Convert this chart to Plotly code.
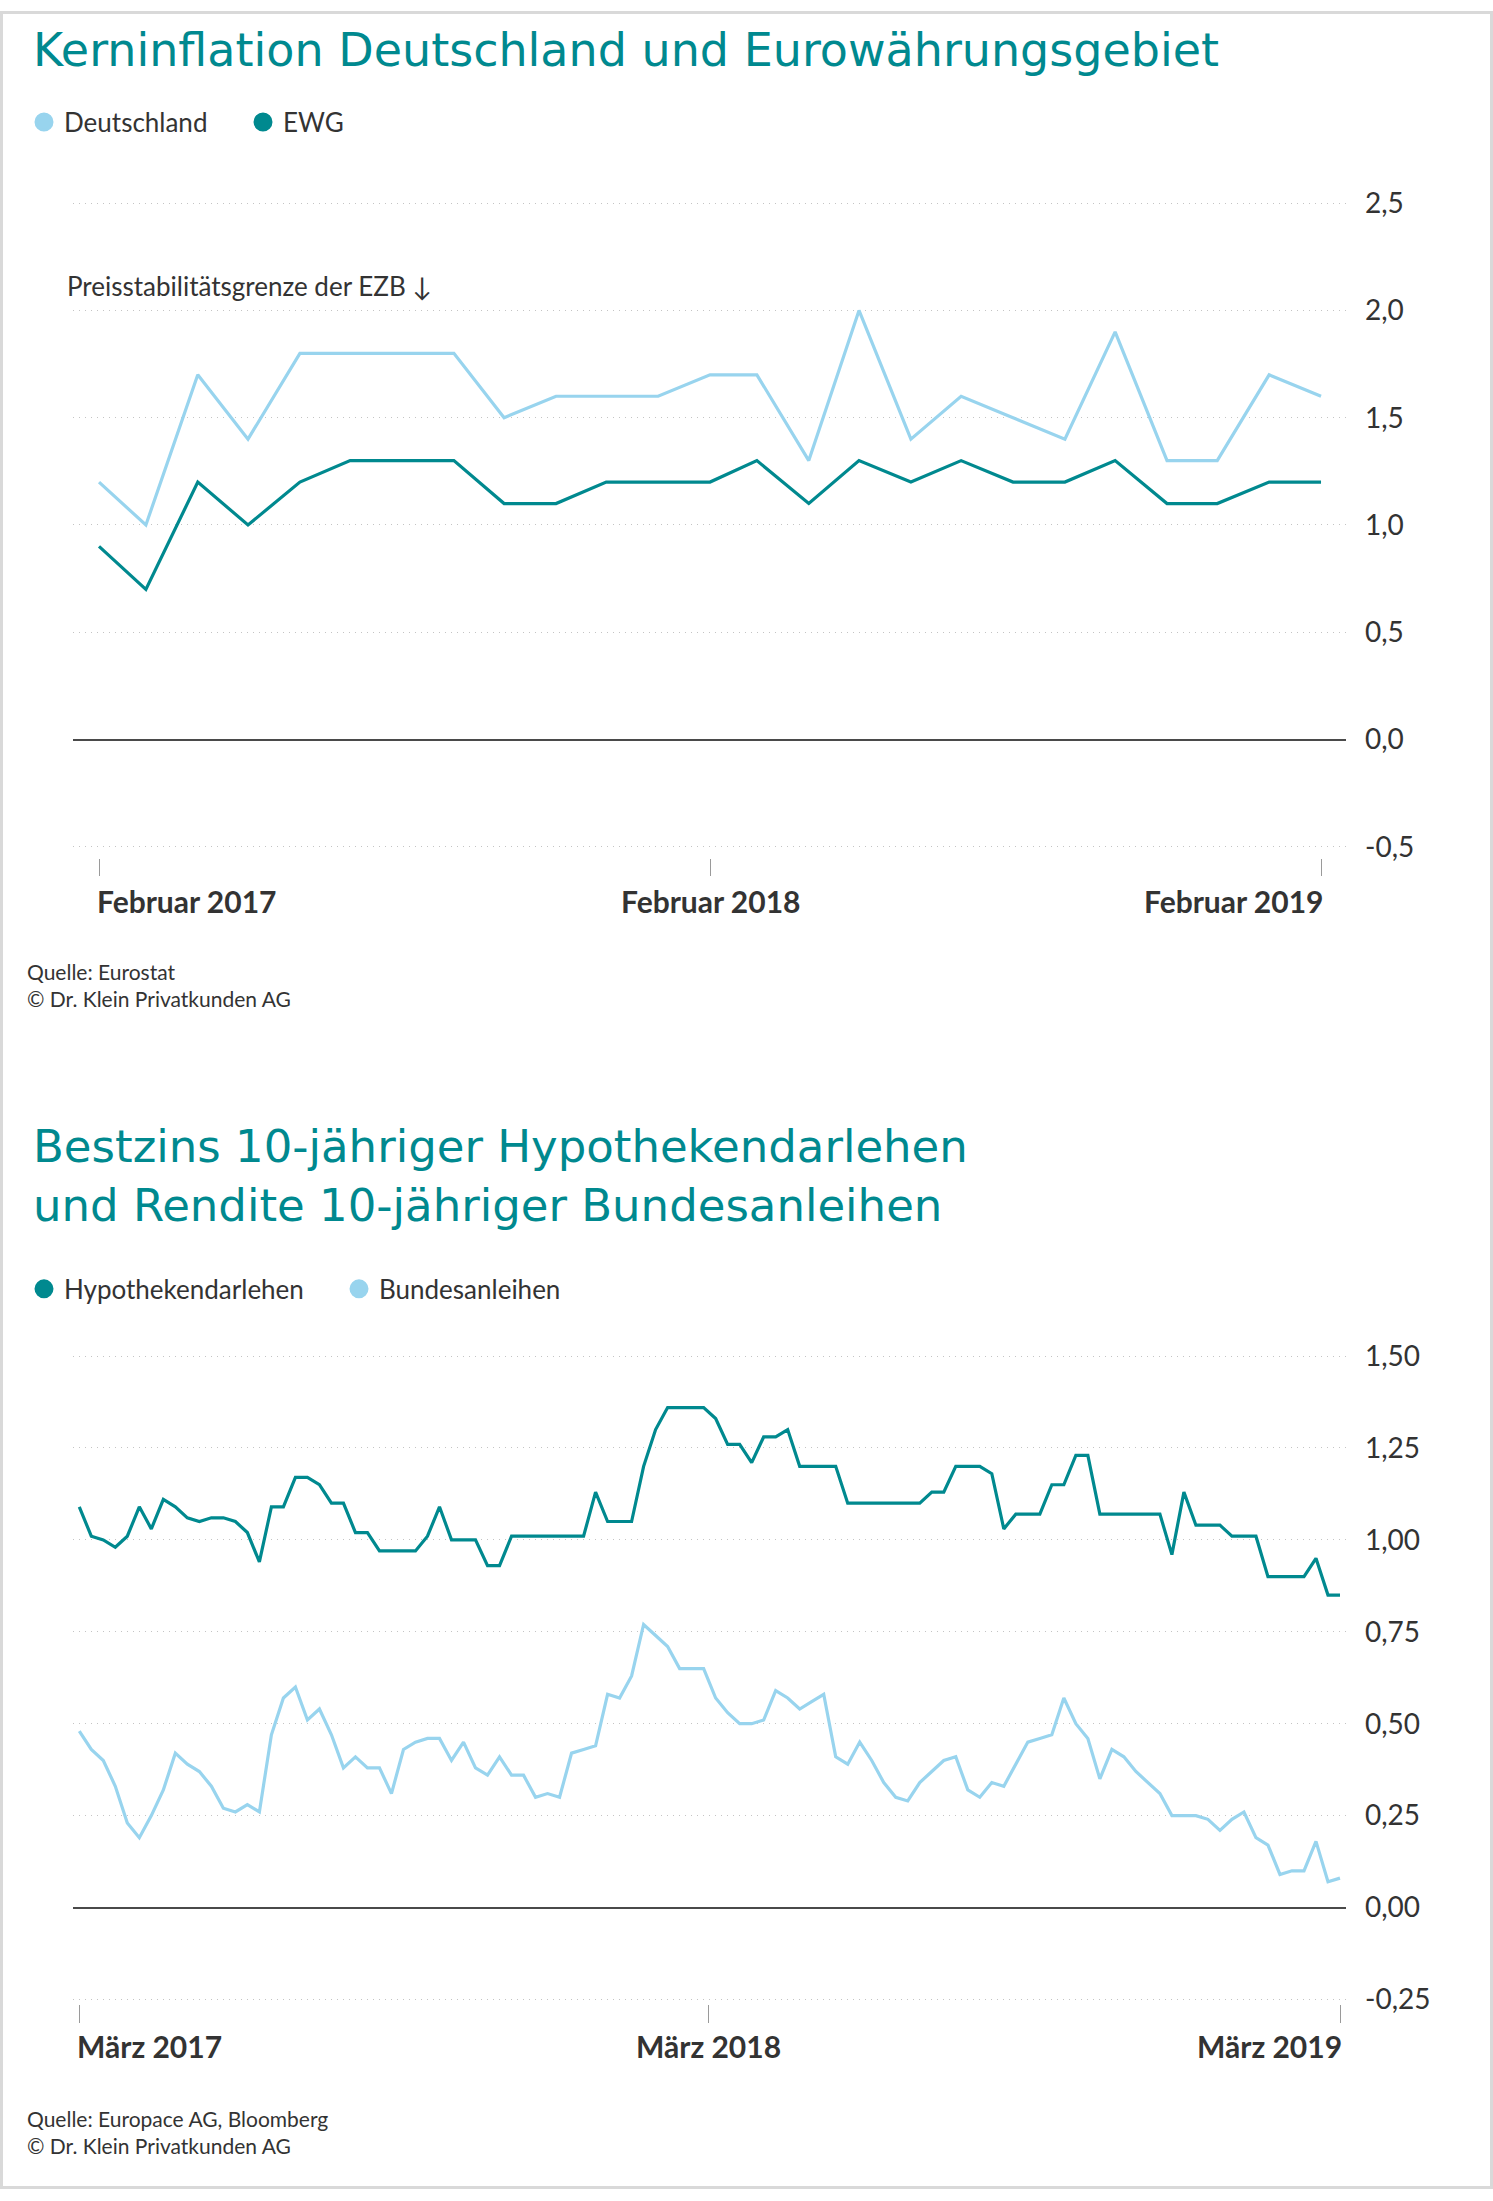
import plotly.graph_objects as go
import pandas as pd

W, H = 1493, 2201
# the photographed page shows the figure slightly offset/compressed vertically;
# positions below are given in reference-image pixels and mapped back here
V_OFF, V_SCALE = 8.0, 0.9888


def px(x):
    return x / W


def py(y):
    return 1 - ((y - V_OFF) / V_SCALE) / H


TEAL = "#00898F"
LIGHT = "#98D4EE"
TEXT = "#333333"
GRID = "#c4c4c4"
BODY_FONT = "Lato"
TITLE_FONT = "DejaVu Sans"

# ---------------- Chart 1: Kerninflation ----------------
months1 = pd.date_range("2017-02-01", "2019-02-01", freq="MS")
deutschland = [1.2, 1.0, 1.7, 1.4, 1.8, 1.8, 1.8, 1.8, 1.5, 1.6, 1.6, 1.6, 1.7,
               1.7, 1.3, 2.0, 1.4, 1.6, 1.5, 1.4, 1.9, 1.3, 1.3, 1.7, 1.6]
ewg = [0.9, 0.7, 1.2, 1.0, 1.2, 1.3, 1.3, 1.3, 1.1, 1.1, 1.2, 1.2, 1.2,
       1.3, 1.1, 1.3, 1.2, 1.3, 1.2, 1.2, 1.3, 1.1, 1.1, 1.2, 1.2]
x1_tick_dates = ["2017-02-01", "2018-02-01", "2019-02-01"]
x1_tick_labels = ["Februar 2017", "Februar 2018", "Februar 2019"]
y1_tick_vals = [-0.5, 0.0, 0.5, 1.0, 1.5, 2.0, 2.5]
y1_tick_text = ["-0,5", "0,0", "0,5", "1,0", "1,5", "2,0", "2,5"]
ezb_limit = 2.0

# ---------------- Chart 2: Bestzins / Rendite ----------------
weeks2 = pd.date_range("2017-03-01", periods=106, freq="7D")
hypothek = [1.09, 1.01, 1.00, 0.98, 1.01, 1.09, 1.03, 1.11, 1.09, 1.06,
            1.05, 1.06, 1.06, 1.05, 1.02, 0.94, 1.09, 1.09, 1.17, 1.17,
            1.15, 1.10, 1.10, 1.02, 1.02, 0.97, 0.97, 0.97, 0.97, 1.01,
            1.09, 1.00, 1.00, 1.00, 0.93, 0.93, 1.01, 1.01, 1.01, 1.01,
            1.01, 1.01, 1.01, 1.13, 1.05, 1.05, 1.05, 1.20, 1.30, 1.36,
            1.36, 1.36, 1.36, 1.33, 1.26, 1.26, 1.21, 1.28, 1.28, 1.30,
            1.20, 1.20, 1.20, 1.20, 1.10, 1.10, 1.10, 1.10, 1.10, 1.10,
            1.10, 1.13, 1.13, 1.20, 1.20, 1.20, 1.18, 1.03, 1.07, 1.07,
            1.07, 1.15, 1.15, 1.23, 1.23, 1.07, 1.07, 1.07, 1.07, 1.07,
            1.07, 0.96, 1.13, 1.04, 1.04, 1.04, 1.01, 1.01, 1.01, 0.90,
            0.90, 0.90, 0.90, 0.95, 0.85, 0.85]
bund = [0.48, 0.43, 0.40, 0.33, 0.23, 0.19, 0.25, 0.32, 0.42, 0.39,
        0.37, 0.33, 0.27, 0.26, 0.28, 0.26, 0.47, 0.57, 0.60, 0.51,
        0.54, 0.47, 0.38, 0.41, 0.38, 0.38, 0.31, 0.43, 0.45, 0.46,
        0.46, 0.40, 0.45, 0.38, 0.36, 0.41, 0.36, 0.36, 0.30, 0.31,
        0.30, 0.42, 0.43, 0.44, 0.58, 0.57, 0.63, 0.77, 0.74, 0.71,
        0.65, 0.65, 0.65, 0.57, 0.53, 0.50, 0.50, 0.51, 0.59, 0.57,
        0.54, 0.56, 0.58, 0.41, 0.39, 0.45, 0.40, 0.34, 0.30, 0.29,
        0.34, 0.37, 0.40, 0.41, 0.32, 0.30, 0.34, 0.33, 0.39, 0.45,
        0.46, 0.47, 0.57, 0.50, 0.46, 0.35, 0.43, 0.41, 0.37, 0.34,
        0.31, 0.25, 0.25, 0.25, 0.24, 0.21, 0.24, 0.26, 0.19, 0.17,
        0.09, 0.10, 0.10, 0.18, 0.07, 0.08]
x2_tick_dates = ["2017-03-01", "2018-03-03", "2019-03-06"]
x2_tick_labels = ["März 2017", "März 2018", "März 2019"]
y2_tick_vals = [-0.25, 0.0, 0.25, 0.5, 0.75, 1.0, 1.25, 1.5]
y2_tick_text = ["-0,25", "0,00", "0,25", "0,50", "0,75", "1,00", "1,25", "1,50"]

fig = go.Figure()

# chart 1 lines
fig.add_trace(go.Scatter(x=months1, y=deutschland, mode="lines", name="Deutschland",
                         line=dict(color=LIGHT, width=3.2), showlegend=False,
                         xaxis="x", yaxis="y"))
fig.add_trace(go.Scatter(x=months1, y=ewg, mode="lines", name="EWG",
                         line=dict(color=TEAL, width=3.2), showlegend=False,
                         xaxis="x", yaxis="y"))
for name, col in [("Deutschland", LIGHT), ("EWG", TEAL)]:
    fig.add_trace(go.Scatter(x=[None], y=[None], mode="markers", name=name,
                             marker=dict(color=col, size=16, line=dict(color=col, width=3)),
                             legend="legend", xaxis="x", yaxis="y"))

# chart 2 lines
fig.add_trace(go.Scatter(x=weeks2, y=hypothek, mode="lines", name="Hypothekendarlehen",
                         line=dict(color=TEAL, width=3.2), showlegend=False,
                         xaxis="x2", yaxis="y2"))
fig.add_trace(go.Scatter(x=weeks2, y=bund, mode="lines", name="Bundesanleihen",
                         line=dict(color=LIGHT, width=3.2), showlegend=False,
                         xaxis="x2", yaxis="y2"))
for name, col in [("Hypothekendarlehen", TEAL), ("Bundesanleihen", LIGHT)]:
    fig.add_trace(go.Scatter(x=[None], y=[None], mode="markers", name=name,
                             marker=dict(color=col, size=16, line=dict(color=col, width=3)),
                             legend="legend2", xaxis="x2", yaxis="y2"))

xdom = [px(73), px(1346)]

common_x = dict(type="date", showgrid=False, zeroline=False, showline=False,
                ticks="outside", tickwidth=1, tickcolor="#9a9a9a",
                showticklabels=False)
common_y = dict(side="right", showgrid=True, gridcolor=GRID, gridwidth=1,
                griddash="1px,5px", zeroline=True, zerolinecolor="#4a4a4a",
                zerolinewidth=1.5, showline=False, ticks="",
                tickmode="array", ticklabelstandoff=18,
                tickfont=dict(family=BODY_FONT, size=28, color=TEXT))

legend_font = dict(family=BODY_FONT, size=26, color=TEXT)

fig.update_layout(
    width=W, height=H,
    margin=dict(l=0, r=0, t=0, b=0),
    paper_bgcolor="white", plot_bgcolor="white",
    separators=",.",
    font=dict(family=BODY_FONT, color=TEXT),
    xaxis=dict(domain=xdom, anchor="y",
               range=["2017-01-16 11:00", "2019-02-15 22:00"],
               tickvals=x1_tick_dates, ticklen=17, **common_x),
    yaxis=dict(domain=[py(854.1), py(189.3)], anchor="x",
               range=[-0.551, 2.55], tickvals=y1_tick_vals, ticktext=y1_tick_text,
               **common_y),
    xaxis2=dict(domain=xdom, anchor="y2",
                range=["2017-02-25 08:00", "2019-03-09 12:00"],
                tickvals=x2_tick_dates, ticklen=18, **common_x),
    yaxis2=dict(domain=[py(1999), py(1344.7)], anchor="x2",
                range=[-0.261, 1.52], tickvals=y2_tick_vals, ticktext=y2_tick_text,
                **common_y),
    legend=dict(orientation="h", x=px(24), y=py(119), xanchor="left", yanchor="middle",
                font=legend_font, bgcolor="rgba(0,0,0,0)",
                entrywidth=174, entrywidthmode="pixels"),
    legend2=dict(orientation="h", x=px(24), y=py(1285), xanchor="left", yanchor="middle",
                 font=legend_font, bgcolor="rgba(0,0,0,0)",
                 entrywidth=270, entrywidthmode="pixels"),
)

annotations = []
annotations.append(dict(text="Kerninflation Deutschland und Eurowährungsgebiet",
                        x=px(31), y=py(47), xref="paper", yref="paper",
                        xanchor="left", yanchor="middle", showarrow=False,
                        font=dict(family=TITLE_FONT, size=46, color=TEAL)))
annotations.append(dict(text="Bestzins 10-jähriger Hypothekendarlehen<br>und Rendite 10-jähriger Bundesanleihen",
                        x=px(31), y=py(1172), xref="paper", yref="paper",
                        xanchor="left", yanchor="middle", align="left", showarrow=False,
                        font=dict(family=TITLE_FONT, size=45, color=TEAL)))
annotations.append(dict(text="Preisstabilitätsgrenze der EZB ↓",
                        x=px(65), y=ezb_limit, xref="paper", yref="y",
                        xanchor="left", yanchor="middle", yshift=24, showarrow=False,
                        font=dict(family=BODY_FONT, size=26, color=TEXT)))
anchors = ["left", "center", "right"]
shifts = [-4, 0, 4]
for d, lab, a, s in zip(x1_tick_dates, x1_tick_labels, anchors, shifts):
    annotations.append(dict(text=lab, x=d, xref="x", y=py(897), yref="paper",
                            xanchor=a, yanchor="middle", xshift=s, showarrow=False,
                            font=dict(family=BODY_FONT, size=30, color=TEXT, weight="bold")))
for d, lab, a, s in zip(x2_tick_dates, x2_tick_labels, anchors, shifts):
    annotations.append(dict(text=lab, x=d, xref="x2", y=py(2041), yref="paper",
                            xanchor=a, yanchor="middle", xshift=s, showarrow=False,
                            font=dict(family=BODY_FONT, size=30, color=TEXT, weight="bold")))
annotations.append(dict(text="Quelle: Eurostat<br>© Dr. Klein Privatkunden AG",
                        x=px(25), y=py(981.5), xref="paper", yref="paper",
                        xanchor="left", yanchor="middle", align="left", showarrow=False,
                        font=dict(family=BODY_FONT, size=21, color=TEXT)))
annotations.append(dict(text="Quelle: Europace AG, Bloomberg<br>© Dr. Klein Privatkunden AG",
                        x=px(25), y=py(2127), xref="paper", yref="paper",
                        xanchor="left", yanchor="middle", align="left", showarrow=False,
                        font=dict(family=BODY_FONT, size=21, color=TEXT)))
fig.update_layout(annotations=annotations)

fig.add_shape(type="rect", xref="paper", yref="paper",
              x0=px(1.5), x1=px(W - 1.5), y0=0.0007, y1=0.9993,
              line=dict(color="#d9d9d9", width=3), fillcolor="rgba(0,0,0,0)", layer="above")

post = ("document.documentElement.style.margin='0';"
        "document.body.style.margin='0';"
        "document.body.style.overflow='hidden';"
        "var d=document.getElementById('{plot_id}');"
        "d.style.position='fixed';d.style.top='0px';d.style.left='0px';")
fig.write_html("out.html", config={"displayModeBar": False}, post_script=post)
